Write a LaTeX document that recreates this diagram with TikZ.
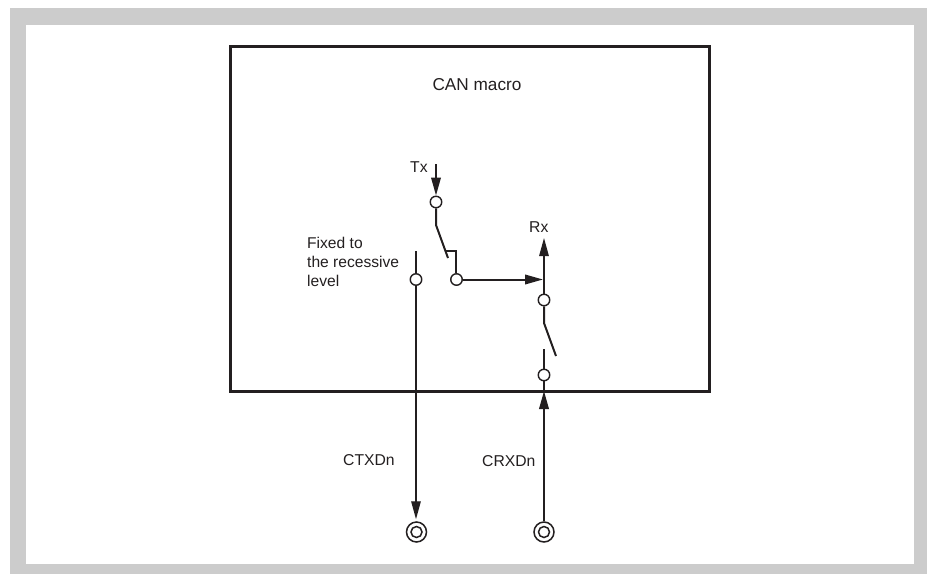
\documentclass[tikz,border=0pt]{standalone}
\usepackage{fontspec}
\setmainfont{Liberation Sans}
\usetikzlibrary{arrows.meta}
\definecolor{panel}{HTML}{CCCCCC}
\definecolor{ink}{HTML}{231F20}
\tikzset{
  contact/.style={circle,draw=ink,fill=white,line width=1.4pt,minimum size=11.5pt,inner sep=0pt},
  terminal/.style={circle,draw=ink,fill=white,line width=1.5pt,minimum size=20pt,inner sep=0pt},
  terminner/.style={circle,draw=ink,fill=white,line width=1.5pt,minimum size=11pt,inner sep=0pt},
  lbl/.style={inner sep=0pt,text=ink,font=\fontsize{15.7}{19}\selectfont},
  wire/.style={draw=ink,line width=2pt},
  thin wire/.style={draw=ink,line width=1.4pt},
  tip/.style={-{Triangle[length=18pt,width=9.5pt,fill=ink]}},
}
\begin{document}
\begin{tikzpicture}[x=1pt,y=-1pt]
\useasboundingbox (0,0) rectangle (927,574);
\fill[panel] (10,8) rectangle (927,574);
\fill[white] (26,25) rectangle (914,564);
\node[draw=ink,line width=3pt,minimum width=479pt,minimum height=345pt,inner sep=0pt,anchor=north west,outer sep=0pt] (macro) at (230.5,46) {};
\node[lbl,font=\fontsize{17.2}{20}\selectfont] (title) at (477,85) {CAN macro};
\node[lbl,anchor=west] (tx) at (410,167) {Tx};
\node[lbl,anchor=west] (rx) at (529,227) {Rx};
\node[lbl,anchor=base west,align=left,font=\fontsize{15.6}{19}\selectfont] (fixed) at (307,286) {Fixed to\\the recessive\\level};
\node[lbl,anchor=west] (ctxd) at (343,460) {CTXDn};
\node[lbl,anchor=west] (crxd) at (482,461) {CRXDn};
\coordinate (txtop) at (436,164);
\coordinate (swpivot) at (436,225);
\coordinate (swend) at (448,258);
\coordinate (brk) at (445,251);
\coordinate (brkc) at (456,251);
\coordinate (ltop) at (416,251);
\coordinate (rxtop) at (544,238);
\coordinate (rxj) at (543,279.5);
\coordinate (lowpivot) at (544,323);
\coordinate (lowend) at (556,356);
\coordinate (lowtop) at (544,349);
\node[contact] (c1) at (436,202) {};
\node[contact] (c2) at (416,279.5) {};
\node[contact] (c3) at (456.5,279.5) {};
\node[contact] (c4) at (544,300) {};
\node[contact] (c5) at (544,375) {};
\node[terminal] (t1) at (416.5,532) {};
\node[terminal] (t2) at (544,532) {};
\node[terminner] (t1i) at (416.5,532) {};
\node[terminner] (t2i) at (544,532) {};
\draw[wire,tip] (txtop) -- (c1.north);
\draw[wire] (c1) -- (swpivot) -- (swend);
\draw[thin wire] (brk) -- (brkc) -- (brkc |- c3.north);
\draw[wire] (ltop) -- (c2.north);
\draw[thin wire,tip,shorten >=2pt] (c2.south) -- (c2 |- t1.north);
\draw[wire,tip] (c3.east) -- (rxj);
\draw[thin wire,tip] (c4.north) -- (rxtop);
\draw[wire] (c4.south) -- (lowpivot) -- (lowend);
\draw[wire] (lowtop) -- (c5.north);
\draw[wire] (c5.south) -- (macro.south -| c5);
\draw[wire,tip] (t2.north) -- (macro.south -| t2);
\end{tikzpicture}
\end{document}
